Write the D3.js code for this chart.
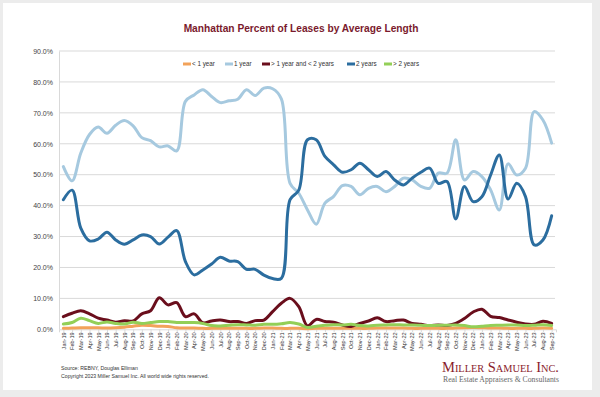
<!DOCTYPE html>
<html><head><meta charset="utf-8">
<script src="https://cdn.jsdelivr.net/npm/d3@7"></script>
<style>html,body{margin:0;padding:0;background:#ececec;}svg{display:block;}</style>
</head><body>
<svg id="c" width="600" height="397"></svg>
<script>
const months = ["Jan-19","Feb-19","Mar-19","Apr-19","May-19","Jun-19","Jul-19","Aug-19","Sep-19","Oct-19","Nov-19","Dec-19",
"Jan-20","Feb-20","Mar-20","Apr-20","May-20","Jun-20","Jul-20","Aug-20","Sep-20","Oct-20","Nov-20","Dec-20",
"Jan-21","Feb-21","Mar-21","Apr-21","May-21","Jun-21","Jul-21","Aug-21","Sep-21","Oct-21","Nov-21","Dec-21",
"Jan-22","Feb-22","Mar-22","Apr-22","May-22","Jun-22","Jul-22","Aug-22","Sep-22","Oct-22","Nov-22","Dec-22",
"Jan-23","Feb-23","Mar-23","Apr-23","May-23","Jun-23","Jul-23","Aug-23","Sep-23"];
const lessOneYear = [0.3,0.4,0.5,0.5,0.5,0.4,0.5,0.7,1.0,1.3,1.2,1.0,0.9,0.5,0.4,0.4,0.3,0.3,0.3,
0.3,0.3,0.3,0.3,0.4,0.4,0.3,0.3,0.3,0.2,0.3,0.3,0.3,0.3,0.3,0.3,0.3,0.4,0.4,
0.4,0.4,0.3,0.3,0.3,0.3,0.3,0.4,0.5,0.6,0.5,0.4,0.4,0.3,0.3,0.3,0.3,0.4,0.3];
const oneYear = [52.6,48,57,63,65.4,63.4,66,67.5,65.8,62,61,59,59.3,57.7,73.7,75.8,77.5,75.3,73.3,
73.9,74.4,77.5,75.6,78,77.8,74.5,47.2,44,38.6,34,40.8,43,46.5,46.2,43.5,45.6,46.2,44.5,
46.2,48.9,48.3,46.2,45.6,50.5,50.5,61.3,48.3,51,49.4,45.1,38.6,53.5,49.9,52.1,70.4,67.7,60.2];
const oneToTwoYears = [4.1,5.2,6.0,5.0,3.6,3.0,2.3,2.8,2.7,5.0,6.0,10.2,7.9,8.6,4.1,5.0,2.1,2.7,3.0,
2.5,2.5,1.9,2.8,3.0,5.7,8.4,10,7.3,1.1,3.2,2.5,2.3,1.4,0.9,1.9,2.7,3.7,2.5,
2.8,3.0,1.9,1.6,1.2,1.4,1.2,1.9,3.5,5.6,6.5,4.2,3.8,3.0,2.3,1.7,1.6,2.6,1.9];
const twoYears = [41.9,45,32.7,28.6,29.2,31.4,28.9,27.5,28.9,30.5,30,27.6,29.8,31.9,21.9,17.6,19.2,21.1,23.3,
22.1,21.9,19.4,19.4,17.5,16.4,16.5,41.9,45,61.3,61.3,55.9,53.2,50.8,51.6,53.7,51.6,49.4,51,
48.3,46.7,48.9,50.8,52.1,47.2,47.8,35.7,46.2,41.3,42.9,49.9,56.4,42.1,47.2,42.9,27.3,28.9,36.7];
const moreTwoYears = [1.7,2.2,3.6,2.8,1.9,2.4,1.9,1.7,2.3,1.9,2.2,2.5,2.5,2.2,2.2,2.2,1.9,1.2,1.1,
1.3,1.5,1.4,1.3,1.6,1.6,1.8,2.2,1.7,0.6,1.0,1.3,1.5,1.4,1.6,1.2,1.1,1.3,1.4,
1.5,1.4,1.4,1.3,1.2,1.3,1.3,1.4,1.2,0.8,1.0,1.2,1.3,1.4,1.4,1.2,1.3,1.5,1.2];
const yTicks = [0,10,20,30,40,50,60,70,80,90];
const seriesNames = ["< 1 year","1 year","> 1 year and < 2 years","2 years","> 2 years"];
const seriesValues = [lessOneYear, oneYear, oneToTwoYears, twoYears, moreTwoYears];
const seriesColors = ["#f2a25a","#a6c9df","#6a0e1c","#2b6d9f","#93cf57"];

const svg = d3.select("#c");
svg.append("rect").attr("x",3).attr("y",3).attr("width",589).attr("height",387).attr("fill","#fff");

const L = 59, R = 556, T = 51, B = 329.3;
const x = d3.scalePoint().domain(months).range([L, R]).padding(0.5);
const y = d3.scaleLinear().domain([0, 90]).range([B, T]);

// gridlines
svg.append("g").selectAll("line").data(yTicks.slice(1)).join("line")
  .attr("x1", L).attr("x2", R - 1).attr("y1", d => y(d)).attr("y2", d => y(d))
  .attr("stroke", "#d9d9d9").attr("stroke-width", 1);

// y axis
const ya = svg.append("g").attr("transform", `translate(${L},0)`)
  .call(d3.axisLeft(y).tickValues(yTicks).tickFormat(d => d.toFixed(1) + "%").tickSize(0).tickPadding(6));
ya.select(".domain").attr("stroke", "#d9d9d9");
ya.selectAll("text").attr("font-family", "Arial, Liberation Sans, sans-serif").attr("font-size", 7).attr("fill", "#444");

// x axis
const xa = svg.append("g").attr("transform", `translate(0,${B})`)
  .call(d3.axisBottom(x).tickSize(3).tickPadding(2));
xa.select(".domain").attr("stroke", "#d9d9d9");
xa.selectAll(".tick line").attr("stroke", "#d9d9d9");
xa.selectAll("text").attr("font-family", "Arial, Liberation Sans, sans-serif").attr("font-size", 5.6).attr("fill", "#333")
  .attr("transform", "rotate(-90)").attr("text-anchor", "end").attr("dx", "-3").attr("dy", "0.32em").attr("x", 0).attr("y", 0);

// lines
const line = d3.line().x((d, i) => x(months[i])).y(d => y(d)).curve(d3.curveCatmullRom.alpha(0.5));
seriesValues.forEach((vals, k) => {
  svg.append("path").datum(vals).attr("d", line).attr("fill", "none")
    .attr("stroke", seriesColors[k]).attr("stroke-width", 3).attr("stroke-linejoin", "round").attr("stroke-linecap", "round");
});

// title
svg.append("text").attr("x", 301).attr("y", 31.5).attr("text-anchor", "middle")
  .attr("font-family", "Arial, Liberation Sans, sans-serif").attr("font-weight", "bold").attr("font-size", 10.2)
  .attr("fill", "#7a1a2d").text("Manhattan Percent of Leases by Average Length");

// legend
const legX = [183, 225, 262, 347, 384];
const lg = svg.append("g");
seriesNames.forEach((n, k) => {
  lg.append("line").attr("x1", legX[k]).attr("x2", legX[k] + 8).attr("y1", 64).attr("y2", 64)
    .attr("stroke", seriesColors[k]).attr("stroke-width", 3);
  lg.append("text").attr("x", legX[k] + 9).attr("y", 66.3).attr("font-family", "Arial, Liberation Sans, sans-serif")
    .attr("font-size", 6.3).attr("fill", "#333").text(n);
});

// source
svg.append("text").attr("x", 61).attr("y", 369.5).attr("font-family", "Arial, Liberation Sans, sans-serif")
  .attr("font-size", 5.2).attr("fill", "#333").text("Source: REBNY, Douglas Elliman");
svg.append("text").attr("x", 61).attr("y", 378).attr("font-family", "Arial, Liberation Sans, sans-serif")
  .attr("font-size", 5.2).attr("fill", "#333").text("Copyright 2023 Miller Samuel Inc.  All world wide rights reserved.");

// logo
svg.append("text").attr("x", 442).attr("y", 372).attr("font-family", "Liberation Serif, Times New Roman, serif")
  .attr("font-size", 15.5).style("font-variant", "small-caps")
  .attr("fill", "#8a1c2c").attr("textLength", 117).attr("lengthAdjust", "spacingAndGlyphs")
  .text("Miller Samuel Inc.");
svg.append("text").attr("x", 443).attr("y", 382).attr("font-family", "Liberation Serif, Times New Roman, serif")
  .attr("font-size", 7.2).attr("fill", "#666").attr("textLength", 116).attr("lengthAdjust", "spacingAndGlyphs")
  .text("Real Estate Appraisers & Consultants");
</script>
</body></html>
